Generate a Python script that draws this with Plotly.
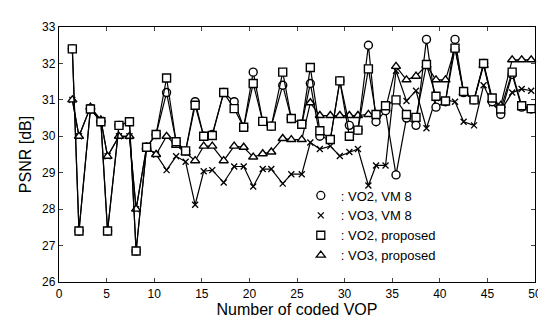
import plotly.graph_objects as go

# Frame positions (Number of coded VOP)
vop = [1.4, 2.1, 3.3, 4.4, 5.1, 6.3, 7.4, 8.1, 9.2, 10.2,
       11.3, 12.3, 13.3, 14.3, 15.2, 16.1, 17.3, 18.4, 19.4, 20.4,
       21.4, 22.3, 23.5, 24.4, 25.5, 26.4, 27.4, 28.5, 29.5, 30.5,
       31.4, 32.5, 33.3, 34.3, 35.4, 36.5, 37.5, 38.6, 39.6, 40.6,
       41.6, 42.5, 43.6, 44.6, 45.5, 46.4, 47.6, 48.6, 49.6]

vo2_vm8 = [32.4, 27.4, 30.75, 30.4, 27.4, 30.3, 30.4, 26.85, 29.7, 30.05,
           31.2, 29.85, 29.6, 30.95, 30.0, 30.05, 31.2, 30.95, 30.25, 31.76,
           30.41, 30.28, 31.4, 30.49, 30.33, 31.45, 30.0, 29.91, 31.52, 30.3,
           30.17, 32.5, 30.4, 30.7, 28.94, 30.5, 30.3, 32.66, 30.8, 30.95,
           32.66, 31.2, 31.0, 32.0, 30.95, 30.6, 31.7, 30.8, 30.75]

vo3_vm8 = [31.0, 30.0, 30.8, 30.45, 29.45, 30.0, 30.0, 28.0, 29.7, 29.5,
           29.07, 29.45, 29.3, 28.12, 29.04, 29.07, 28.73, 29.17, 29.17, 28.62,
           29.1, 29.1, 28.7, 28.96, 28.96, 29.83, 29.65, 29.73, 29.46, 29.57,
           29.65, 28.65, 29.2, 29.2, 31.8, 30.97, 31.25, 30.22, 31.05, 31.0,
           30.95, 30.4, 30.3, 31.4, 30.9, 30.7, 31.2, 31.3, 31.25]

vo2_prop = [32.4, 27.4, 30.75, 30.4, 27.4, 30.3, 30.4, 26.85, 29.7, 30.05,
            31.6, 29.85, 29.6, 30.85, 30.0, 30.02, 31.2, 30.76, 30.25, 31.45,
            30.41, 30.28, 31.76, 30.49, 30.33, 31.89, 30.15, 29.91, 31.52, 30.0,
            30.17, 31.85, 30.6, 30.84, 31.0, 30.6, 30.52, 31.97, 31.1, 30.97,
            32.42, 31.23, 31.0, 32.0, 31.05, 30.75, 31.76, 30.84, 30.76]

vo3_prop = [31.0, 30.0, 30.8, 30.45, 29.45, 30.0, 30.0, 28.0, 29.7, 29.5,
            30.0, 29.75, 29.55, 29.33, 29.73, 29.73, 29.33, 29.73, 29.7, 29.43,
            29.52, 29.57, 29.94, 29.91, 29.91, 30.92, 30.57, 30.57, 30.57, 30.57,
            30.57, 30.6, 30.6, 30.75, 31.92, 31.55, 31.65, 31.95, 31.55, 31.55,
            32.42, 31.2, 31.0, 31.95, 31.0, 30.85, 32.1, 32.1, 32.1]

labels = [": VO2, VM 8", ": VO3, VM 8", ": VO2, proposed", ": VO3, proposed"]
symbols = ["circle", "x-thin-open", "square", "triangle-up"]

x_ticks = [0, 5, 10, 15, 20, 25, 30, 35, 40, 45, 50]
y_ticks = [26, 27, 28, 29, 30, 31, 32, 33]

fig = go.Figure()

series = [(vo3_vm8, 1), (vo3_prop, 3), (vo2_vm8, 0), (vo2_prop, 2)]
for ys, k in series:
    sym = symbols[k]
    if k == 1:
        mk = dict(symbol=sym, size=6, color="black", line=dict(color="black", width=1.3))
    else:
        mk = dict(symbol=sym, size=8, color="white", line=dict(color="black", width=1.4))
    fig.add_trace(go.Scatter(x=vop, y=ys, mode="lines+markers",
                             line=dict(color="black", width=1.2),
                             marker=mk, showlegend=False, cliponaxis=False))

# legend-only traces (marker only)
for k in range(4):
    sym = symbols[k]
    if k == 1:
        mk = dict(symbol=sym, size=6, color="black", line=dict(color="black", width=1.3))
    else:
        mk = dict(symbol=sym, size=8, color="white", line=dict(color="black", width=1.3))
    fig.add_trace(go.Scatter(x=[None], y=[None], mode="markers", marker=mk,
                             name=labels[k], showlegend=True))

font_family = "Liberation Sans, Arial, sans-serif"
fig.update_layout(
    width=546, height=318,
    margin=dict(l=51, r=16, t=13, b=39),
    paper_bgcolor="white", plot_bgcolor="white",
    font=dict(family=font_family, size=12, color="black"),
    legend=dict(x=0.508, y=0.398, xanchor="left", yanchor="top",
                bgcolor="rgba(0,0,0,0)", font=dict(size=13),
                tracegroupgap=0, itemwidth=30),
    xaxis=dict(range=[0, 50], tickvals=x_ticks, ticks="inside", ticklen=4,
               showline=True, linecolor="black", linewidth=1.3, mirror="ticks",
               showgrid=False, zeroline=False,
               title=dict(text="Number of coded VOP", font=dict(size=16), standoff=2)),
    yaxis=dict(range=[26, 33], tickvals=y_ticks, ticks="inside", ticklen=4,
               showline=True, linecolor="black", linewidth=1.3, mirror="ticks",
               showgrid=False, zeroline=False,
               title=dict(text="PSNR [dB]", font=dict(size=16), standoff=6)),
)

fig.write_html("out.html")
